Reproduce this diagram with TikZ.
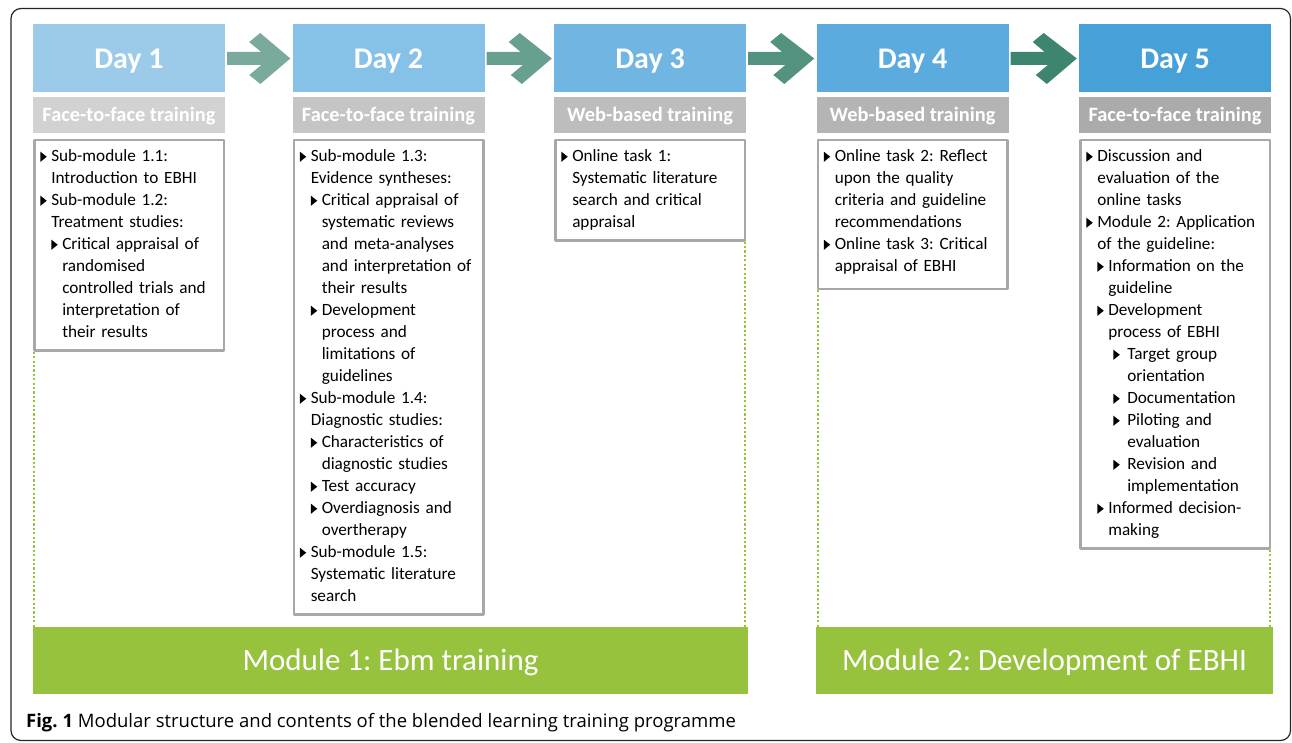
\documentclass[tikz,border=0pt]{standalone}
\usepackage{fontspec}
\setmainfont{Carlito}
\newfontfamily\capfont{Open Sans}
\usetikzlibrary{positioning}

\definecolor{dayblue1}{HTML}{9BCBE9}
\definecolor{dayblue2}{HTML}{86C1E7}
\definecolor{dayblue3}{HTML}{71B5E2}
\definecolor{dayblue4}{HTML}{5CABDE}
\definecolor{dayblue5}{HTML}{47A1D9}
\definecolor{modegray1}{HTML}{D2D2D2}
\definecolor{modegray2}{HTML}{C5C5C5}
\definecolor{modegray3}{HTML}{BDBDBD}
\definecolor{modegray4}{HTML}{B4B4B4}
\definecolor{modegray5}{HTML}{ABABAB}
\definecolor{arrgreen1}{HTML}{7AAA9D}
\definecolor{arrgreen2}{HTML}{67A090}
\definecolor{arrgreen3}{HTML}{52927F}
\definecolor{arrgreen4}{HTML}{3E8571}
\definecolor{boxgray}{HTML}{A8A8A8}
\definecolor{modgreen}{HTML}{96C23E}

\frenchspacing
\hyphenpenalty=10000

% bullet and indent levels for the topic lists
\newcommand{\tri}{\tikz[baseline=0pt]\fill (0,-0.3pt)--(0,10pt)--(6.5pt,4.85pt)--cycle;}
\newcommand{\ia}{\tri\hspace{4.5pt}}
\newcommand{\ib}{\hspace*{11pt}\tri\hspace{4.5pt}}
\newcommand{\ic}{\hspace*{27pt}\tri\hspace{7.5pt}}
\newcommand{\ca}{\hspace*{11pt}}
\newcommand{\cb}{\hspace*{22pt}}
\newcommand{\cc}{\hspace*{41pt}}

\tikzset{
  daybox/.style={fill=#1, minimum width=192pt, minimum height=68pt, inner sep=0pt, text=white,
    font=\fontsize{30}{36}\selectfont\bfseries, text height=19.3pt, text depth=0pt},
  modebar/.style={fill=#1, minimum width=192pt, minimum height=36.6pt, inner sep=0pt, text=white,
    font=\fontsize{20.4}{24}\selectfont\bfseries, text height=13pt, text depth=0pt},
  topics/.style={draw=boxgray, line width=2.5pt, fill=white, text width=177.5pt, inner xsep=6pt,
    inner ysep=6.25pt, align=left, font=\fontsize{17.2}{22}\selectfont,
    execute at begin node=\strut, execute at end node=\strut},
  modbar/.style={fill=modgreen, minimum height=67pt, inner sep=0pt, text=white,
    font=\fontsize{31}{36}\selectfont, text height=20pt, text depth=0pt},
  dots/.style={draw=modgreen, line width=2.2pt, dash pattern=on 2.2pt off 2.2pt}
}

\begin{document}
\begin{tikzpicture}[x=1pt, y=-1pt, line join=round]
\useasboundingbox (0,0) rectangle (1292,743);
\draw[rounded corners=10pt, line width=1.2pt, draw=black!85] (11,8.5) rectangle (1290.5,740.5);

% day headers and kind of training
\foreach \i/\cx/\mode in {1/129/Face-to-face training, 2/388.5/Face-to-face training,
    3/650/Web-based training, 4/912.5/Web-based training, 5/1175/Face-to-face training}{
  \node[daybox=dayblue\i] (day\i) at (\cx,58.5) {Day \i};
  \node[modebar=modegray\i, below=3.8pt of day\i] (mode\i) {\mode};
}

% fat arrows between the days
\foreach \i/\j in {1/2,2/3,3/4,4/5}
  \fill[arrgreen\i] ([shift={(2,-6.5)}]day\i.east) -- ++(34,0) -- ++(-12,-10) -- ++(11,-9)
    -- ([xshift=-2pt]day\j.west) -- ++(-30,25.5) -- ++(-11,-9) -- ++(12,-10)
    -- ([shift={(2,6.5)}]day\i.east) -- cycle;

% contents of each day
\node[topics, below=5.2pt of mode1] (c1) {\ia Sub-module 1.1:\\ \ca Introduction to EBHI\\
  \ia Sub-module 1.2:\\ \ca Treatment studies:\\ \ib Critical appraisal of\\ \cb randomised\\
  \cb controlled trials and\\ \cb interpretation of\\ \cb their results};
\node[topics, below=5.2pt of mode2] (c2) {\ia Sub-module 1.3:\\ \ca Evidence syntheses:\\
  \ib Critical appraisal of\\ \cb systematic reviews\\ \cb and meta-analyses\\
  \cb and interpretation of\\ \cb their results\\ \ib Development\\ \cb process and\\
  \cb limitations of\\ \cb guidelines\\ \ia Sub-module 1.4:\\ \ca Diagnostic studies:\\
  \ib Characteristics of\\ \cb diagnostic studies\\ \ib Test accuracy\\ \ib Overdiagnosis and\\
  \cb overtherapy\\ \ia Sub-module 1.5:\\ \ca Systematic literature\\ \ca search};
\node[topics, below=5.2pt of mode3] (c3) {\ia Online task 1:\\ \ca Systematic literature\\
  \ca search and critical\\ \ca appraisal};
\node[topics, below=5.2pt of mode4, execute at end node={\strut\rule[-11pt]{0pt}{0pt}}] (c4)
  {\ia Online task 2: Reflect\\ \ca upon the quality\\
  \ca criteria and guideline\\ \ca recommendations\\ \ia Online task 3: Critical\\ \ca appraisal of EBHI};
\node[topics, below=5.2pt of mode5] (c5) {\ia Discussion and\\ \ca evaluation of the\\ \ca online tasks\\
  \ia Module 2: Application\\ \ca of the guideline:\\ \ib Information on the\\ \cb guideline\\
  \ib Development\\ \cb process of EBHI\\ \ic Target group\\ \cc orientation\\ \ic Documentation\\
  \ic Piloting and\\ \cc evaluation\\ \ic Revision and\\ \cc implementation\\
  \ib Informed decision-\\ \cb making};

% the two modules
\node[modbar, minimum width=715pt] (mod1) at (390.5,660.5) {Module 1: Ebm training};
\node[modbar, minimum width=457pt] (mod2) at (1044.5,660.5) {Module 2: Development of EBHI};
\draw[dots] ([xshift=1.2pt]c1.south west) -- ([xshift=1.2pt]c1.south west |- mod1.north);
\draw[dots] ([xshift=-1.2pt]c3.south east) -- ([xshift=-1.2pt]c3.south east |- mod1.north);
\draw[dots] ([xshift=1.2pt]c4.south west) -- ([xshift=1.2pt]c4.south west |- mod2.north);
\draw[dots] ([xshift=-1.2pt]c5.south east) -- ([xshift=-1.2pt]c5.south east |- mod2.north);

\node[anchor=base west, inner sep=0pt, font=\capfont\fontsize{18.5}{22}\selectfont] (caption) at (26,727)
  {\textbf{Fig. 1} Modular structure and contents of the blended learning training programme};
\end{tikzpicture}
\end{document}
